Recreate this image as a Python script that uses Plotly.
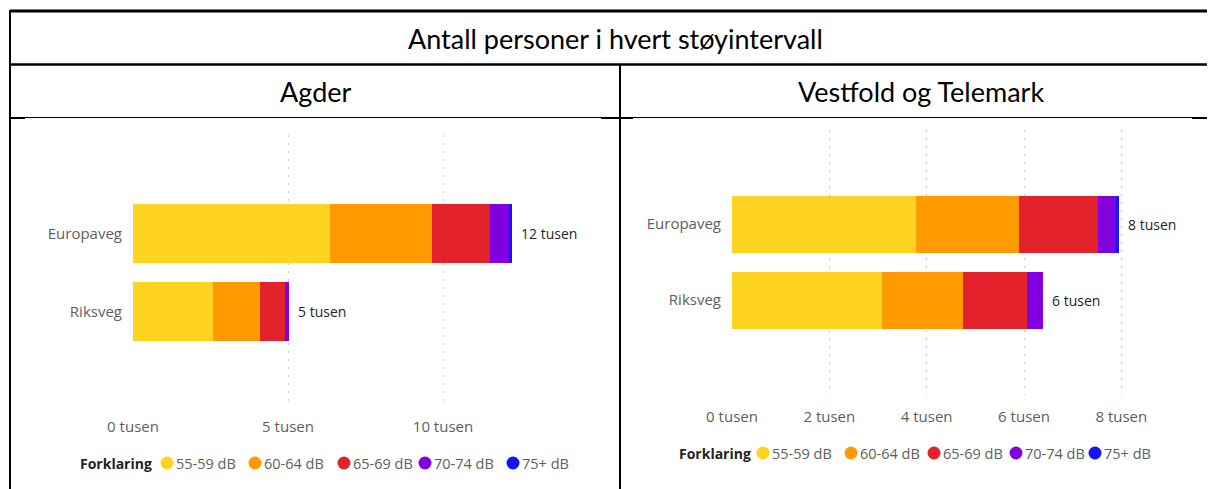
import plotly.graph_objects as go

# road types and noise intervals
categories = ["Europaveg", "Riksveg"]
intervals = ["55-59 dB", "60-64 dB", "65-69 dB", "70-74 dB", "75+ dB"]
colors = ["#FED420", "#FF9A00", "#E3222B", "#8000E0", "#1414FF"]

# persons per noise interval
agder_europaveg = [6370, 3260, 1870, 630, 110]
agder_riksveg = [2590, 1520, 780, 140, 0]
vt_europaveg = [3790, 2110, 1620, 380, 60]
vt_riksveg = [3080, 1670, 1310, 330, 0]

agder_ticks = [0, 5000, 10000]
vt_ticks = [0, 2000, 4000, 6000, 8000]

# page has an 8px body margin, so the figure is shifted by 8px
OFF = 8
W, H = 1215 - OFF, 489 - OFF


def px(x):
    return (x - OFF) / W


def py(y):
    return 1 - (y - OFF) / H


FONT = "Segoe UI, Open Sans, sans-serif"
GREY = "#605E5C"
DARK = "#252423"

panels = [
    dict(rows=[agder_europaveg, agder_riksveg], xa="x", ya="y",
         legend_x=78, legend_y=463, dots=[167, 255, 344, 425, 513]),
    dict(rows=[vt_europaveg, vt_riksveg], xa="x2", ya="y2",
         legend_x=677, legend_y=453, dots=[763, 851, 934, 1016, 1095]),
]

fig = go.Figure()

for p in panels:
    for i, label in enumerate(intervals):
        fig.add_trace(go.Bar(
            y=categories,
            x=[row[i] for row in p["rows"]],
            orientation="h",
            name=label,
            marker=dict(color=colors[i], line=dict(width=0)),
            xaxis=p["xa"], yaxis=p["ya"],
            showlegend=False,
            hoverinfo="x+y",
        ))
    # total labels at the end of each bar
    for cat, row in zip(categories, p["rows"]):
        total = sum(row)
        fig.add_annotation(
            x=total, y=cat, xref=p["xa"], yref=p["ya"],
            text=f"{round(total / 1000)} tusen",
            showarrow=False, xanchor="left", xshift=7,
            font=dict(family=FONT, size=14, color=DARK),
        )

    # legend: "Forklaring" + circle and label per interval
    fig.add_annotation(x=px(p["legend_x"]), y=py(p["legend_y"]), xref="paper", yref="paper",
                       text="<b>Forklaring</b>", showarrow=False,
                       xanchor="left", yanchor="middle",
                       font=dict(family=FONT, size=14, color=DARK))
    for label, col, cx in zip(intervals, colors, p["dots"]):
        fig.add_shape(type="circle", xref="paper", yref="paper",
                      xsizemode="pixel", ysizemode="pixel",
                      xanchor=px(cx), yanchor=py(p["legend_y"]),
                      x0=-6.5, x1=6.5, y0=-6.5, y1=6.5,
                      fillcolor=col, line=dict(width=0))
        fig.add_annotation(x=px(cx + 7), y=py(p["legend_y"]), xref="paper", yref="paper",
                           text=label, showarrow=False,
                           xanchor="left", yanchor="middle",
                           font=dict(family=FONT, size=14.5, color=GREY))

axis_common = dict(
    showgrid=True, gridcolor="#C8C8C8", griddash="2px,6px", gridwidth=1,
    zeroline=False, showline=False, ticks="",
    tickfont=dict(family=FONT, size=15, color=GREY),
    ticklabelstandoff=11, fixedrange=True,
)
yaxis_common = dict(
    showgrid=False, zeroline=False, ticks="", ticklabelstandoff=10,
    tickfont=dict(family=FONT, size=15, color=GREY), fixedrange=True,
)

fig.update_layout(
    xaxis=dict(domain=[px(133), px(567)], range=[0, 14000], anchor="y",
               tickvals=agder_ticks, ticktext=[f"{t // 1000} tusen" for t in agder_ticks],
               **axis_common),
    yaxis=dict(domain=[py(405), py(135)], range=[2.2, -1.26], anchor="x", **yaxis_common),
    xaxis2=dict(domain=[px(732), px(1170)], range=[0, 9000], anchor="y2",
                tickvals=vt_ticks, ticktext=[f"{t // 1000} tusen" for t in vt_ticks],
                **axis_common),
    yaxis2=dict(domain=[py(395), py(130)], range=[2.25, -1.24], anchor="x2", **yaxis_common),
    barmode="stack",
    bargap=0.25,
    showlegend=False,
    width=W, height=H,
    margin=dict(l=0, r=0, t=0, b=0, autoexpand=False),
    paper_bgcolor="white",
    plot_bgcolor="white",
    font=dict(family=FONT),
)

# table borders
borders = [
    (10, 11, 1215, 11, 3),
    (10, 64.5, 1215, 64.5, 2.5),
    (10, 117.5, 1215, 117.5, 1),
    (10, 10, 10, 489, 2),
    (620, 64, 620, 489, 2),
    (601, 118, 633, 118, 2),
    (1192, 118, 1215, 118, 2),
    (10, 118, 25, 118, 2),
]
for x0, y0, x1, y1, w in borders:
    fig.add_shape(type="line", xref="paper", yref="paper",
                  x0=px(x0), y0=py(y0), x1=px(x1), y1=py(y1),
                  line=dict(color="black", width=w))

# headings
HEAD_FONT = "Lato, Carlito, Calibri, sans-serif"
headings = [("Antall personer i hvert støyintervall", 615, 38),
            ("Agder", 316, 91),
            ("Vestfold og Telemark", 921, 91)]
for text, hx, hy in headings:
    fig.add_annotation(x=px(hx), y=py(hy), xref="paper", yref="paper",
                       text=text, showarrow=False,
                       xanchor="center", yanchor="middle",
                       font=dict(family=HEAD_FONT, size=27, color="black"))

fig.write_html("out.html")
